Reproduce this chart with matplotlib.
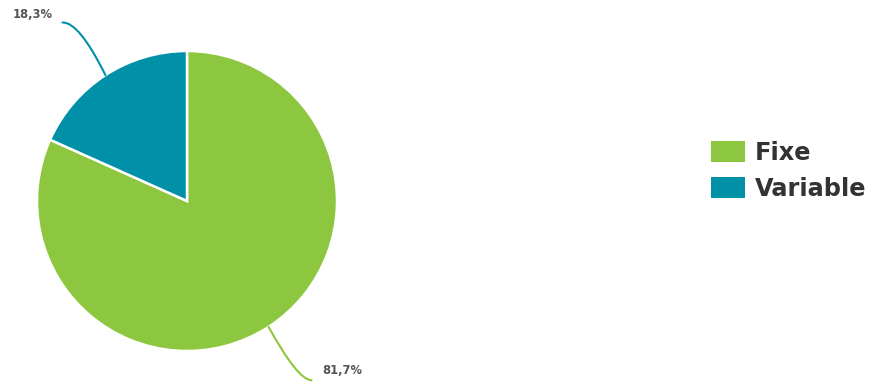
import matplotlib
matplotlib.use("Agg")
import matplotlib.pyplot as plt
from matplotlib.path import Path
from matplotlib.patches import PathPatch
import numpy as np

categories = ["Fixe", "Variable"]
values = [81.7, 18.3]
labels = ["81,7%", "18,3%"]
colors = ["#8DC63F", "#0090A8"]

W, H = 876, 383
fig = plt.figure(figsize=(W / 100, H / 100), dpi=100)
cx, cy, r = 187, 201, 150
ax = fig.add_axes([(cx - r) / W, (H - cy - r) / H, 2 * r / W, 2 * r / H])
wedges, _ = ax.pie(values, colors=colors, startangle=90, counterclock=False,
                   radius=1, wedgeprops=dict(edgecolor="white", linewidth=1.8))
ax.set_xlim(-1, 1)
ax.set_ylim(-1, 1)
ax.set_aspect("equal")
ax.axis("off")

# leader lines (quadratic curves) and labels
for w, lab, col in zip(wedges, labels, colors):
    mid = np.deg2rad((w.theta1 + w.theta2) / 2)
    ex, ey = np.cos(mid), np.sin(mid)
    if ey > 0:
        ctrl = (-0.72, 1.195)
        end = (-0.83, 1.19)
        txt = (-1.03, 1.245)
    else:
        ctrl = (0.74, -1.195)
        end = (0.83, -1.195)
        txt = (1.036, -1.127)
    path = Path([(ex, ey), ctrl, end], [Path.MOVETO, Path.CURVE3, Path.CURVE3])
    ax.add_patch(PathPatch(path, facecolor="none", edgecolor=col, lw=1.5,
                           clip_on=False, capstyle="round"))
    ax.text(txt[0], txt[1], lab, ha="center", va="center", fontsize=8.3,
            fontweight="bold", color="#555555", clip_on=False)

leg = fig.legend(wedges, categories, loc="center left",
                 bbox_to_anchor=(711 / W, 1 - 171 / H), frameon=False,
                 fontsize=17.3, handlelength=1.42, handleheight=0.97,
                 handletextpad=0.42, labelspacing=0.5, borderpad=0,
                 borderaxespad=0)
for t in leg.get_texts():
    t.set_fontweight("bold")
    t.set_color("#333333")
for h in leg.legend_handles:
    h.set_edgecolor("none")

fig.savefig("out.png", dpi=100)
